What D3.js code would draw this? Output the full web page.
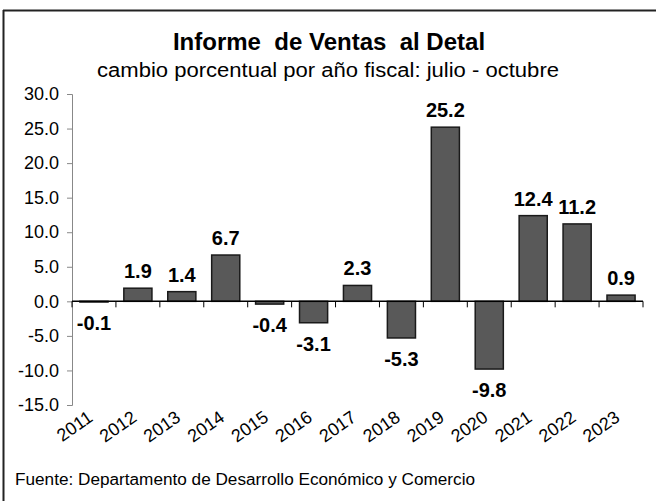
<!DOCTYPE html>
<html>
<head>
<meta charset="utf-8">
<script src="https://d3js.org/d3.v7.min.js"></script>
<style>
  body { margin: 0; background: #fff; }
  text { font-family: Arial, "Liberation Sans", sans-serif; }
</style>
</head>
<body>
<script>
// datos del gráfico
var years = ["2011","2012","2013","2014","2015","2016","2017","2018","2019","2020","2021","2022","2023"];
var values = [-0.1, 1.9, 1.4, 6.7, -0.4, -3.1, 2.3, -5.3, 25.2, -9.8, 12.4, 11.2, 0.9];
var yTicks = [-15, -10, -5, 0, 5, 10, 15, 20, 25, 30];

var W = 656, H = 501;
var svg = d3.select("body").append("svg")
    .attr("width", W)
    .attr("height", H);

// marco
svg.append("line").attr("x1", 3).attr("x2", W).attr("y1", 10.5).attr("y2", 10.5)
   .attr("stroke", "#222").attr("stroke-width", 2);
svg.append("line").attr("x1", 3.5).attr("x2", 3.5).attr("y1", 10).attr("y2", H)
   .attr("stroke", "#222").attr("stroke-width", 2);

svg.append("text")
   .attr("x", 329).attr("y", 50)
   .attr("text-anchor", "middle")
   .attr("font-size", 24).attr("font-weight", "bold")
   .style("white-space", "pre")
   .text("Informe  de Ventas  al Detal");

svg.append("text")
   .attr("x", 328).attr("y", 77)
   .attr("text-anchor", "middle")
   .attr("font-size", 20)
   .attr("textLength", 462).attr("lengthAdjust", "spacingAndGlyphs")
   .text("cambio porcentual por año fiscal: julio - octubre");

var x = d3.scaleBand().domain(years).range([72, 643]).paddingInner(0.36).paddingOuter(0.18);
var y = d3.scaleLinear().domain([-15, 30]).range([405, 94]);
var fmt = d => d.toFixed(1);

// eje y
var yAxis = d3.axisLeft(y).tickValues(yTicks).tickSize(5).tickFormat(fmt);
var gy = svg.append("g").attr("transform", "translate(72,0)").call(yAxis);
gy.select(".domain").attr("stroke", "#888");
gy.selectAll(".tick line").attr("stroke", "#888");
gy.selectAll(".tick text").attr("font-size", 18).attr("fill", "#000").attr("x", -13)
  .attr("font-family", "Arial, 'Liberation Sans', sans-serif");

// barras
svg.append("g").selectAll("rect")
   .data(values)
   .join("rect")
   .attr("x", (d, i) => x(years[i]))
   .attr("width", x.bandwidth())
   .attr("y", d => y(Math.max(0, d)))
   .attr("height", d => Math.abs(y(d) - y(0)))
   .attr("fill", "#595959")
   .attr("stroke", "#1a1a1a")
   .attr("stroke-width", 1.5);

// eje x en cero
var step = (643 - 72) / years.length;
svg.append("line").attr("x1", 72).attr("x2", 643).attr("y1", y(0)).attr("y2", y(0))
   .attr("stroke", "#000").attr("stroke-width", 1.5);
svg.append("g").selectAll("line")
   .data(d3.range(years.length + 1))
   .join("line")
   .attr("x1", i => 72 + i * step).attr("x2", i => 72 + i * step)
   .attr("y1", y(0)).attr("y2", y(0) + 6)
   .attr("stroke", "#000");

// etiquetas de valor
svg.append("g").selectAll("text")
   .data(values)
   .join("text")
   .attr("x", (d, i) => x(years[i]) + x.bandwidth() / 2)
   .attr("y", d => d >= 0 ? y(d) - 10 : y(d) + 28)
   .attr("text-anchor", "middle")
   .attr("font-size", 20).attr("font-weight", "bold")
   .text(fmt);

// etiquetas de año
svg.append("g").selectAll("text")
   .data(years)
   .join("text")
   .attr("transform", d => "translate(" + (x(d) + x.bandwidth() / 2) + ",420) rotate(-35)")
   .attr("text-anchor", "end")
   .attr("font-size", 18)
   .text(d => d);

svg.append("text")
   .attr("x", 15).attr("y", 485)
   .attr("font-size", 16)
   .attr("font-family", "Lato, 'Open Sans', sans-serif")
   .attr("textLength", 460).attr("lengthAdjust", "spacingAndGlyphs")
   .text("Fuente: Departamento de Desarrollo Económico y Comercio");
</script>
</body>
</html>
